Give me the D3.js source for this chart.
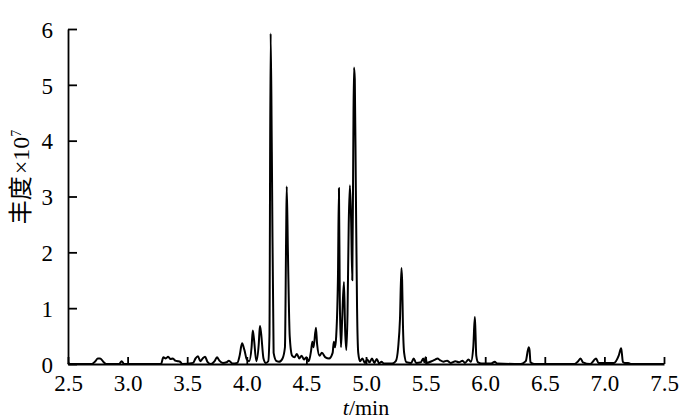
<!DOCTYPE html>
<html>
<head>
<meta charset="utf-8">
<script src="https://cdn.jsdelivr.net/npm/d3@7"></script>
<style>
  body { margin: 0; background: #fff; }
  text { font-family: "Liberation Serif", "Times New Roman", serif; fill: #000; }
</style>
</head>
<body>
<div id="chart"></div>
<script>
// retention time (min) and abundance (x10^7)
const times = [
  2.50, 2.52, 2.70, 2.73, 2.75, 2.77, 2.80, 2.82, 2.93, 2.95, 2.97,
  3.28, 3.30, 3.32, 3.34, 3.36, 3.38, 3.40, 3.42, 3.44, 3.46,
  3.55, 3.57, 3.59, 3.61, 3.63, 3.65, 3.67, 3.70, 3.73, 3.75, 3.77, 3.80, 3.83, 3.85, 3.88,
  3.92, 3.94, 3.96, 3.98, 4.00, 4.02, 4.04, 4.05, 4.06, 4.08, 4.10, 4.11, 4.12, 4.14, 4.16,
  4.18, 4.19, 4.20, 4.21, 4.225, 4.25, 4.27, 4.30,
  4.32, 4.33, 4.335, 4.345, 4.36, 4.38, 4.40, 4.42, 4.44, 4.46, 4.48, 4.50, 4.52,
  4.54, 4.55, 4.56, 4.58, 4.59, 4.61, 4.63, 4.66, 4.69, 4.72, 4.73, 4.74, 4.75,
  4.765, 4.773, 4.78, 4.79, 4.80, 4.815, 4.825, 4.835, 4.845, 4.855, 4.865, 4.875, 4.885,
  4.893, 4.899, 4.906, 4.915, 4.925, 4.935, 4.95, 4.97, 4.99,
  5.01, 5.03, 5.05, 5.07, 5.09, 5.11, 5.13, 5.15, 5.18, 5.22, 5.25, 5.27,
  5.285, 5.297, 5.303, 5.31, 5.32, 5.34, 5.38, 5.40, 5.42, 5.46, 5.48, 5.49, 5.50, 5.51,
  5.55, 5.58, 5.60, 5.62, 5.65, 5.68, 5.71, 5.75, 5.78, 5.81, 5.83, 5.86, 5.88,
  5.90, 5.913, 5.918, 5.925, 5.94, 5.97, 6.05, 6.08, 6.10,
  6.30, 6.34, 6.365, 6.372, 6.38, 6.41, 6.44,
  6.75, 6.78, 6.80, 6.82, 6.88, 6.91, 6.93, 6.95,
  7.08, 7.12, 7.14, 7.146, 7.155, 7.17, 7.20, 7.22, 7.50
];
const abundance = [
  0.02, 0.00, 0.00, 0.05, 0.10, 0.10, 0.03, 0.00, 0.00, 0.05, 0.00,
  0.00, 0.12, 0.10, 0.13, 0.09, 0.10, 0.06, 0.05, 0.04, 0.00,
  0.02, 0.10, 0.14, 0.05, 0.10, 0.13, 0.04, 0.00, 0.05, 0.12, 0.06, 0.02, 0.03, 0.06, 0.01,
  0.02, 0.15, 0.37, 0.25, 0.08, 0.05, 0.30, 0.60, 0.45, 0.05, 0.35, 0.68, 0.55, 0.10, 0.02,
  0.05, 0.50, 5.92, 3.80, 0.20, 0.05, 0.04, 0.10,
  0.30, 2.30, 3.18, 2.00, 0.50, 0.15, 0.12, 0.18, 0.10, 0.15, 0.08, 0.12, 0.05,
  0.25, 0.40, 0.30, 0.65, 0.35, 0.15, 0.20, 0.12, 0.10, 0.20, 0.40, 0.30, 0.50,
  1.60, 3.15, 1.20, 0.30, 0.80, 1.47, 0.60, 0.25, 0.90, 2.50, 3.20, 2.60, 1.50,
  3.80, 5.31, 5.10, 3.10, 1.00, 0.20, 0.05, 0.10, 0.02,
  0.08, 0.03, 0.10, 0.02, 0.09, 0.01, 0.04, 0.01, 0.01, 0.01, 0.05, 0.30,
  0.80, 1.72, 1.50, 0.70, 0.20, 0.03, 0.02, 0.10, 0.02, 0.03, 0.10, 0.03, 0.12, 0.02,
  0.05, 0.08, 0.10, 0.07, 0.04, 0.06, 0.02, 0.05, 0.03, 0.06, 0.02, 0.08, 0.04,
  0.30, 0.84, 0.60, 0.15, 0.03, 0.01, 0.01, 0.04, 0.01,
  0.00, 0.05, 0.30, 0.25, 0.03, 0.00, 0.00,
  0.00, 0.05, 0.10, 0.03, 0.00, 0.06, 0.10, 0.02,
  0.02, 0.15, 0.28, 0.20, 0.04, 0.02, 0.02, 0.00, 0.00
];
const xTicks = [2.5, 3.0, 3.5, 4.0, 4.5, 5.0, 5.5, 6.0, 6.5, 7.0, 7.5];
const yTicks = [0, 1, 2, 3, 4, 5, 6];

const data = times.map((t, i) => ({ t: t, v: abundance[i] }));

const width = 700, height = 420;
const margin = { top: 29, right: 36, bottom: 56, left: 68 };

const svg = d3.select("#chart")
    .append("svg")
    .attr("width", width)
    .attr("height", height);

const xScale = d3.scaleLinear()
    .domain([2.5, 7.5])
    .range([margin.left, width - margin.right]);

const yScale = d3.scaleLinear()
    .domain([0, 6])
    .range([height - margin.bottom, margin.top]);

// x axis, ticks pointing inward
const xAxis = svg.append("g")
    .attr("transform", `translate(0,${height - margin.bottom})`)
    .attr("font-family", "'Liberation Serif', serif")
    .call(d3.axisBottom(xScale)
        .tickValues(xTicks)
        .tickFormat(d3.format(".1f"))
        .tickSizeInner(-7)
        .tickSizeOuter(0)
        .tickPadding(11));

// y axis
const yAxis = svg.append("g")
    .attr("transform", `translate(${margin.left},0)`)
    .attr("font-family", "'Liberation Serif', serif")
    .call(d3.axisLeft(yScale)
        .tickValues(yTicks)
        .tickFormat(d3.format("d"))
        .tickSizeInner(-9)
        .tickSizeOuter(0)
        .tickPadding(15));

svg.selectAll(".domain, .tick line")
    .attr("stroke", "#000")
    .attr("stroke-width", 1.8);

svg.selectAll(".tick text")
    .attr("fill", "#000")
    .style("font-size", "23px");

yAxis.selectAll(".tick text").attr("dy", "0.36em");

// chromatogram trace
const line = d3.line()
    .x(d => xScale(d.t))
    .y(d => yScale(d.v))
    .curve(d3.curveMonotoneX);

svg.append("path")
    .datum(data)
    .attr("fill", "none")
    .attr("stroke", "#000")
    .attr("stroke-width", 2)
    .attr("stroke-linejoin", "round")
    .attr("d", line);

// x axis label
const xLabel = svg.append("text")
    .attr("x", (margin.left + width - margin.right) / 2)
    .attr("y", 415)
    .attr("text-anchor", "middle")
    .attr("fill", "#000")
    .style("font-size", "22px");
xLabel.append("tspan").style("font-style", "italic").text("t");
xLabel.append("tspan").text("/min");

// y axis label
const yLabel = svg.append("text")
    .attr("transform", "translate(29,177) rotate(-90)")
    .attr("text-anchor", "middle")
    .attr("fill", "#000")
    .style("font-size", "24px");
yLabel.append("tspan").attr("fill", "#000").style("font-family", "'Noto Sans CJK SC', sans-serif").text("丰度");
yLabel.append("tspan").attr("fill", "#000").attr("dx", 2).text("×10");
yLabel.append("tspan").attr("fill", "#000").attr("dy", "-0.6em").style("font-size", "14px").text("7");
</script>
</body>
</html>
